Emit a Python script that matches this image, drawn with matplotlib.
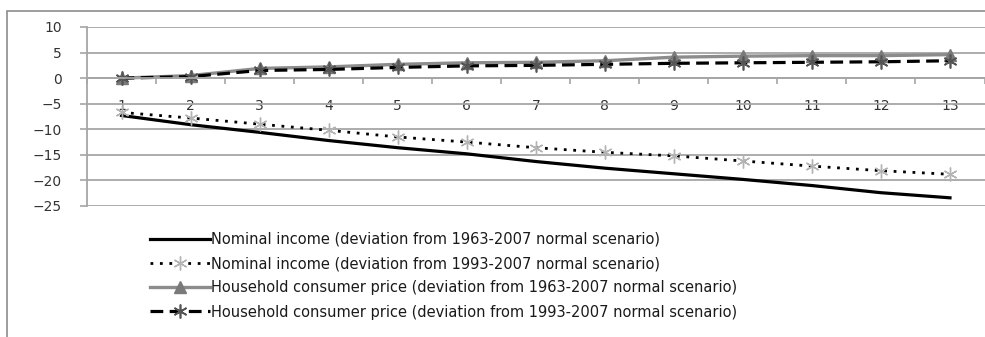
import matplotlib.pyplot as plt
from matplotlib.patches import Rectangle

# Years after the shock (category axis) and deviations from baseline, in %
periods = list(range(1, 14))
income_6307 = [-7.3, -9.1, -10.6, -12.2, -13.6, -14.8, -16.3, -17.6, -18.7, -19.8, -21.0, -22.4, -23.4]
income_9307 = [-6.7, -7.8, -9.0, -10.2, -11.5, -12.5, -13.6, -14.5, -15.2, -16.2, -17.2, -18.1, -18.8]
price_6307 = [0.0, 0.5, 1.9, 2.2, 2.7, 3.0, 3.1, 3.4, 4.1, 4.3, 4.4, 4.4, 4.6]
price_9307 = [0.0, 0.3, 1.5, 1.7, 2.1, 2.4, 2.5, 2.7, 2.9, 3.0, 3.1, 3.2, 3.4]

labels = [
    'Nominal income (deviation from 1963-2007 normal scenario)',
    'Nominal income (deviation from 1993-2007 normal scenario)',
    'Household consumer price (deviation from 1963-2007 normal scenario)',
    'Household consumer price (deviation from 1993-2007 normal scenario)',
]

GRID = '#a6a6a6'
TEXT = '#333333'
W, H = 985, 337

plt.rcParams['font.family'] = ['DejaVu Sans']
fig = plt.figure(figsize=(W / 100, H / 100), dpi=100)
ax = fig.add_axes([87 / W, 1 - 206 / H, 1 - 87 / W - 0.0005, (206 - 27) / H])

star = (6, 2, 0)
ax.plot(periods, income_6307, color='black', lw=2.3, label=labels[0])
ax.plot(periods, income_9307, color='black', lw=2.0, ls=(0, (1, 2.4)),
        marker=star, ms=10, mec='#b4b4b4', mew=1.0, label=labels[1])
ax.plot(periods, price_6307, color='#8c8c8c', lw=2.4,
        marker='^', ms=8, mfc='#7a7a7a', mec='#7a7a7a', label=labels[2])
ax.plot(periods, price_9307, color='black', lw=2.3, ls=(0, (4, 2)),
        marker=star, ms=10, mec='#555555', mew=1.2, label=labels[3])

ax.set_xlim(0.5, 13.5)
ax.set_ylim(-25, 10)
ax.set_yticks(range(-25, 11, 5))
ax.grid(axis='y', color=GRID, lw=1.3)
ax.set_axisbelow(True)

# category axis crosses at zero, labels sit below it
ax.spines['bottom'].set_position(('data', 0))
ax.spines['bottom'].set_color(GRID)
ax.spines['bottom'].set_linewidth(1.3)
ax.spines['left'].set_color(GRID)
ax.spines['left'].set_linewidth(1.3)
ax.spines['top'].set_visible(False)
ax.spines['right'].set_visible(False)

ax.set_xticks(periods)
ax.set_xticks([p + 0.5 for p in range(0, 14)], minor=True)
ax.tick_params(axis='x', which='major', length=0, pad=15, labelsize=10, labelcolor=TEXT)
ax.tick_params(axis='x', which='minor', length=4, width=1.2, color=GRID, direction='out')
ax.tick_params(axis='y', length=5, width=1.2, color=GRID, pad=13, labelsize=10, labelcolor=TEXT)

fig.legend(loc='upper left', bbox_to_anchor=(150 / W, 1 - 232 / H), frameon=False,
           fontsize=10.5, labelcolor='#1a1a1a', handlelength=4.1, handletextpad=0.1,
           labelspacing=0.63, numpoints=1, borderpad=0, borderaxespad=0)

# chart area border
fig.patches.append(Rectangle((7 / W, -0.1), 1.5, 1.1 - 11 / H, transform=fig.transFigure,
                             fill=False, edgecolor='#8c8c8c', lw=1.2))

fig.savefig('out.png', dpi=100)
